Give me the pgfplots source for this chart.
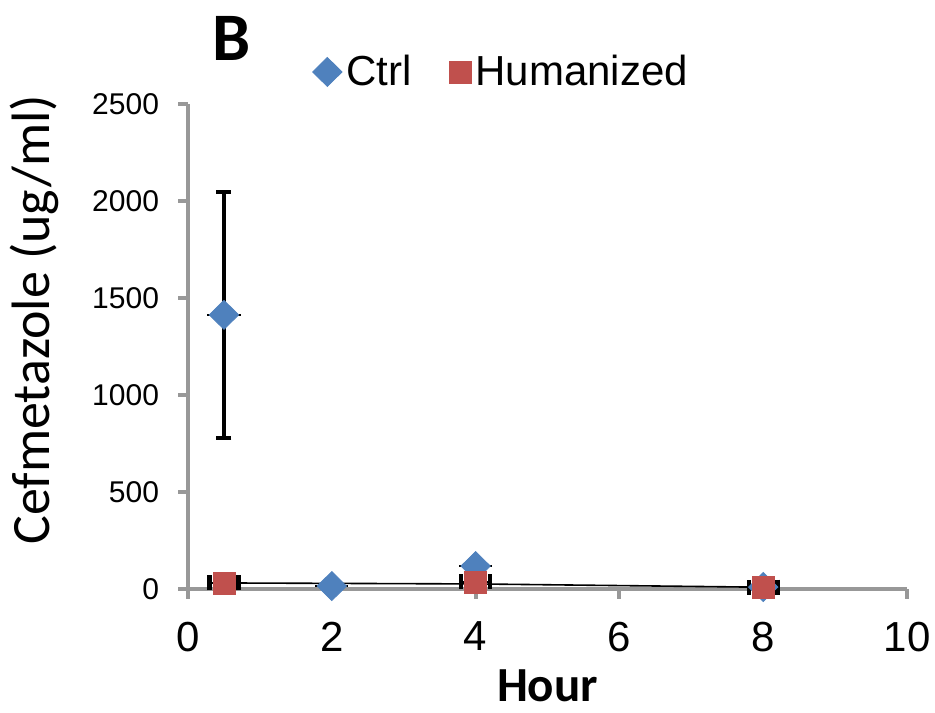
\documentclass[border=0pt]{standalone}
\usepackage{pgfplots}
\pgfplotsset{compat=1.18}
\usepackage{fontspec}
\setmainfont{Liberation Sans}
\newfontfamily\calibri{Carlito}
\definecolor{ctrlblue}{HTML}{4F81BD}
\definecolor{humred}{HTML}{C0504D}
\definecolor{axgray}{HTML}{989898}

\begin{document}
\begin{tikzpicture}
\begin{axis}[
  scale only axis,
  width=359.5pt, height=242.5pt,
  xmin=0, xmax=10, ymin=0, ymax=2500,
  xtick={0,2,...,10}, ytick={0,500,...,2500},
  axis x line=bottom, axis y line=left,
  axis line style={-, axgray, line width=2pt},
  tick align=outside, major tick length=5pt,
  tick style={axgray, line width=2pt},
  x tick label style={font=\fontsize{21}{24}\selectfont, yshift=-8pt},
  y tick label style={font=\fontsize{15}{17}\selectfont, xshift=-6pt},
  /pgf/number format/assume math mode=true,
  /pgf/number format/1000 sep={},
  xlabel={\calibri\bfseries Hour},
  xlabel style={font=\fontsize{24.5}{26}\selectfont, at={(rel axis cs:0.5,-0.2)}, anchor=center},
  ylabel={\calibri Cefmetazole (ug/ml)},
  ylabel style={font=\fontsize{27}{30}\selectfont, at={(rel axis cs:-0.214,0.555)}, anchor=center},
  clip=false,
  legend style={draw=none, fill=none, at={(rel axis cs:0.437,1.066)}, anchor=center,
    font=\fontsize{21}{24}\selectfont,
    /tikz/every even column/.append style={column sep=17pt}},
  legend columns=2,
  legend cell align=left,
]
% thin black connecting line
\addplot[black, line width=0.8pt, forget plot] coordinates {(0.5,31) (4,26) (8,9)};
% Ctrl vertical error bars
\addplot[draw=none, forget plot, error bars/.cd, y dir=both, y explicit,
  error bar style={black, line width=2pt},
  error mark options={black, line width=2pt, mark size=3.75pt, rotate=90}]
  coordinates {(0.5,1413) +- (0,634) (2,15) +- (0,0) (4,118) +- (0,0) (8,10) +- (0,0)};
% Ctrl horizontal error bars
\addplot[draw=none, forget plot, error bars/.cd, x dir=both, x explicit,
  error bar style={black, line width=1pt}, error mark=none]
  coordinates {(0.5,1413) +- (0.23,0) (2,15) +- (0.23,0) (4,118) +- (0.23,0) (8,10) +- (0.23,0)};
% Humanized horizontal error bars
\addplot[draw=none, forget plot, error bars/.cd, x dir=both, x explicit,
  error bar style={black, line width=1pt},
  error mark options={black, line width=2.2pt, mark size=3.75pt, rotate=90}]
  coordinates {(0.5,31) +- (0.2,0) (4,36) +- (0.2,0) (8,10) +- (0.2,0)};
\addplot[only marks, mark=diamond*, mark size=7.25pt,
  mark options={draw=ctrlblue, fill=ctrlblue, xscale=1.35}]
  coordinates {(0.5,1413) (2,15) (4,118) (8,10)};
\addlegendentry{Ctrl}
\addplot[only marks, mark=square*, mark size=5.5pt,
  mark options={draw=humred, fill=humred}]
  coordinates {(0.5,31) (4,36) (8,10)};
\addlegendentry{Humanized}
\node[font=\calibri\bfseries\fontsize{34}{36}\selectfont, anchor=west]
  at (rel axis cs:0.024,1.136) {B};
\coordinate (bl) at (rel axis cs:-0.2615,-0.2557);
\coordinate (tr) at (rel axis cs:1.0389,1.2144);
\end{axis}
\pgfresetboundingbox
\path[use as bounding box] (bl) rectangle (tr);
\end{tikzpicture}
\end{document}
